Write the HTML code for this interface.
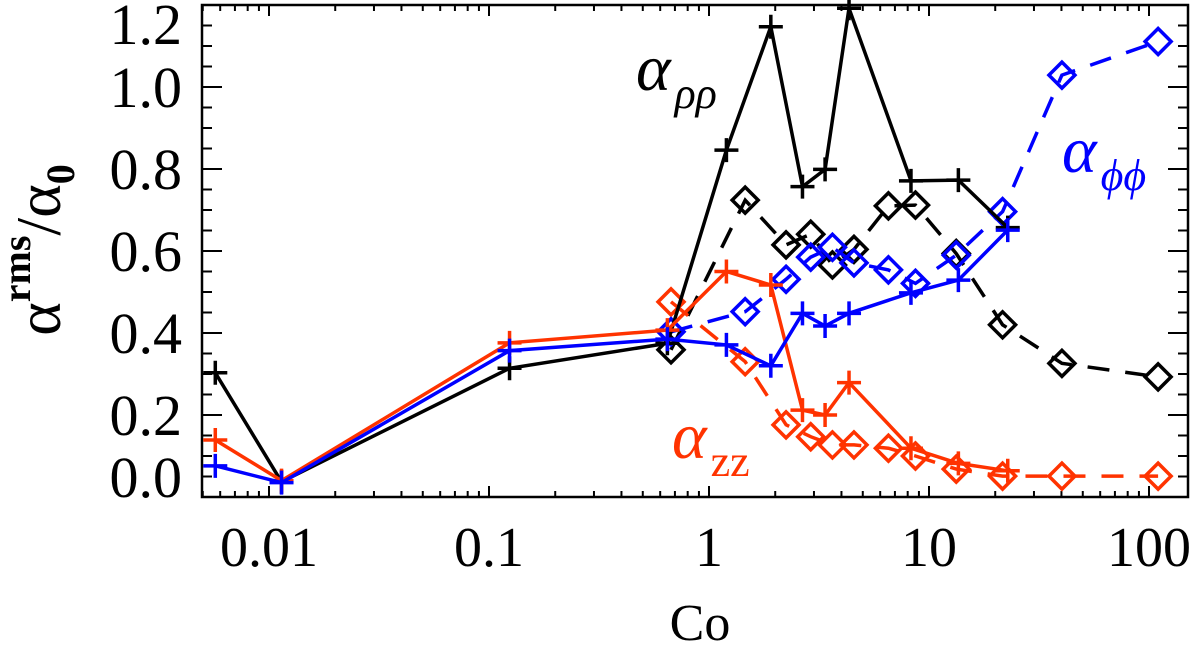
<!DOCTYPE html>
<html><head><meta charset="utf-8"><style>
html,body{margin:0;padding:0;background:#fff;}
svg{display:block;}
text{font-family:"Liberation Serif","DejaVu Serif",serif;}
</style></head><body>
<svg id="chart" width="1200" height="650" viewBox="0 0 1200 650" xmlns="http://www.w3.org/2000/svg">
<g id="axes"></g>
<g id="series"></g>
<text x="636" y="90" font-size="66" font-style="italic" fill="#000">α<tspan font-size="44" dy="18" dx="4">ρρ</tspan></text>
<text x="1062" y="172" font-size="66" font-style="italic" fill="#0000ff">α<tspan font-size="44" dy="18" dx="4">ϕϕ</tspan></text>
<text x="672" y="458" font-size="66" font-style="italic" fill="#ff3300">α<tspan font-size="44" dy="18" dx="4" font-style="normal">zz</tspan></text>
<text x="700" y="640" font-size="52" text-anchor="middle" fill="#000">Co</text>
<text transform="translate(60,250) rotate(-90)" font-size="64" text-anchor="middle" fill="#000">α<tspan font-size="40" dy="-30" font-weight="bold">rms</tspan><tspan dy="30">/α</tspan><tspan font-size="40" dy="14" font-weight="bold">0</tspan></text>
</svg>
<script>
const coPlus = [0.0057, 0.0114, 0.124, 0.647, 1.2, 1.91, 2.66, 3.37, 4.33, 8.28, 13.6, 22.8];
const rhoPlus = [0.303, 0.037, 0.314, 0.375, 0.846, 1.147, 0.757, 0.799, 1.192, 0.771, 0.773, 0.657];
const zzPlus = [0.139, 0.04, 0.376, 0.407, 0.550, 0.517, 0.212, 0.200, 0.279, 0.119, 0.082, 0.064];
const phiPlus = [0.076, 0.035, 0.357, 0.385, 0.371, 0.320, 0.448, 0.417, 0.448, 0.498, 0.529, 0.651];
const coDiam = [0.672, 1.46, 2.24, 2.9, 3.64, 4.56, 6.54, 8.68, 13.3, 21.6, 40.2, 110];
const rhoDiam = [0.359, 0.724, 0.615, 0.641, 0.566, 0.604, 0.710, 0.712, 0.594, 0.420, 0.326, 0.293];
const phiDiam = [0.403, 0.452, 0.531, 0.585, 0.609, 0.571, 0.554, 0.521, 0.590, 0.696, 1.029, 1.111];
const zzDiam = [0.476, 0.330, 0.176, 0.147, 0.127, 0.127, 0.119, 0.100, 0.068, 0.051, 0.051, 0.051];
const xTickVals = [0.01, 0.1, 1, 10, 100];
const xTickLabels = ["0.01", "0.1", "1", "10", "100"];
const yTickVals = [0, 0.2, 0.4, 0.6, 0.8, 1.0, 1.2];
const yTickLabels = ["0.0", "0.2", "0.4", "0.6", "0.8", "1.0", "1.2"];

const L = 202, R = 1188, T = 5, B = 497;
const X = v => 709 + 220 * Math.log10(v);
const Y = v => B - v * 410;
const NS = "http://www.w3.org/2000/svg";
function mk(tag, attrs, parent) {
  const e = document.createElementNS(NS, tag);
  for (const k in attrs) e.setAttribute(k, attrs[k]);
  parent.appendChild(e);
  return e;
}
const axes = document.getElementById('axes');
const series = document.getElementById('series');
const frame = mk('rect', {x: L, y: T, width: R - L, height: B - T, fill: 'none', stroke: '#000', 'stroke-width': 2.5}, axes);


for (let d = -3; d <= 2; d++) {
  for (let m = 1; m <= 9; m++) {
    const v = m * Math.pow(10, d);
    const x = X(v);
    if (x < L || x > R) continue;
    const len = m === 1 ? 11 : 6;
    const t1 = mk('line', {x1: x, x2: x, y1: B, y2: B - len, stroke: '#000', 'stroke-width': 2}, axes);
    
    
    const t2 = mk('line', {x1: x, x2: x, y1: T, y2: T + len, stroke: '#000', 'stroke-width': 2}, axes);
    
    
  }
}
xTickVals.forEach((v, i) => {
  const t = mk('text', {x: X(v), y: 566, 'font-size': 56, 'text-anchor': 'middle', fill: '#000'}, axes);
  t.textContent = xTickLabels[i];
  
  
});
for (let k = 0; k <= 24; k++) {
  const v = k * 0.05;
  const y = Y(v);
  const len = k % 4 === 0 ? 20 : 10;
  const t1 = mk('line', {x1: L, x2: L + len, y1: y, y2: y, stroke: '#000', 'stroke-width': 2}, axes);
  
  
  const t2 = mk('line', {x1: R, x2: R - len, y1: y, y2: y, stroke: '#000', 'stroke-width': 2}, axes);
  
  
}
yTickVals.forEach((v, i) => {
  let y = Y(v) + 20;
  if (i === 0) y = 497;
  if (i === yTickVals.length - 1) y = 44;
  const t = mk('text', {x: 182, y: y, 'font-size': 58, 'text-anchor': 'end', fill: '#000'}, axes);
  t.textContent = yTickLabels[i];
  
  
});

function drawSeries(xs, ys, color, dashed, marker, name) {
  const g = mk('g', {}, series);
  
  
  const pts = xs.map((x, i) => X(x).toFixed(1) + ',' + Y(ys[i]).toFixed(1)).join(' ');
  const pl = mk('polyline', {points: pts, fill: 'none', stroke: color, 'stroke-width': 3.5, 'stroke-dasharray': dashed ? '22,16' : 'none'}, g);
  
  
  xs.forEach((x, i) => {
    const cx = X(x), cy = Y(ys[i]);
    let m;
    if (marker === 'plus') {
      m = mk('path', {d: `M${cx-12},${cy}H${cx+12}M${cx},${cy-12}V${cy+12}`, stroke: color, 'stroke-width': 3.5, fill: 'none'}, g);
    } else {
      m = mk('path', {d: `M${cx},${cy-13}L${cx+13},${cy}L${cx},${cy+13}L${cx-13},${cy}Z`, stroke: color, 'stroke-width': 3.5, fill: 'none'}, g);
    }
    
    
  });
}
drawSeries(coDiam, rhoDiam, '#000', true, 'diamond', 'rhorho-diamond-series');
drawSeries(coDiam, zzDiam, '#ff3300', true, 'diamond', 'zz-diamond-series');
drawSeries(coDiam, phiDiam, '#0000ff', true, 'diamond', 'phiphi-diamond-series');
drawSeries(coPlus, rhoPlus, '#000', false, 'plus', 'rhorho-plus-series');
drawSeries(coPlus, zzPlus, '#ff3300', false, 'plus', 'zz-plus-series');
drawSeries(coPlus, phiPlus, '#0000ff', false, 'plus', 'phiphi-plus-series');
</script>
</body></html>
